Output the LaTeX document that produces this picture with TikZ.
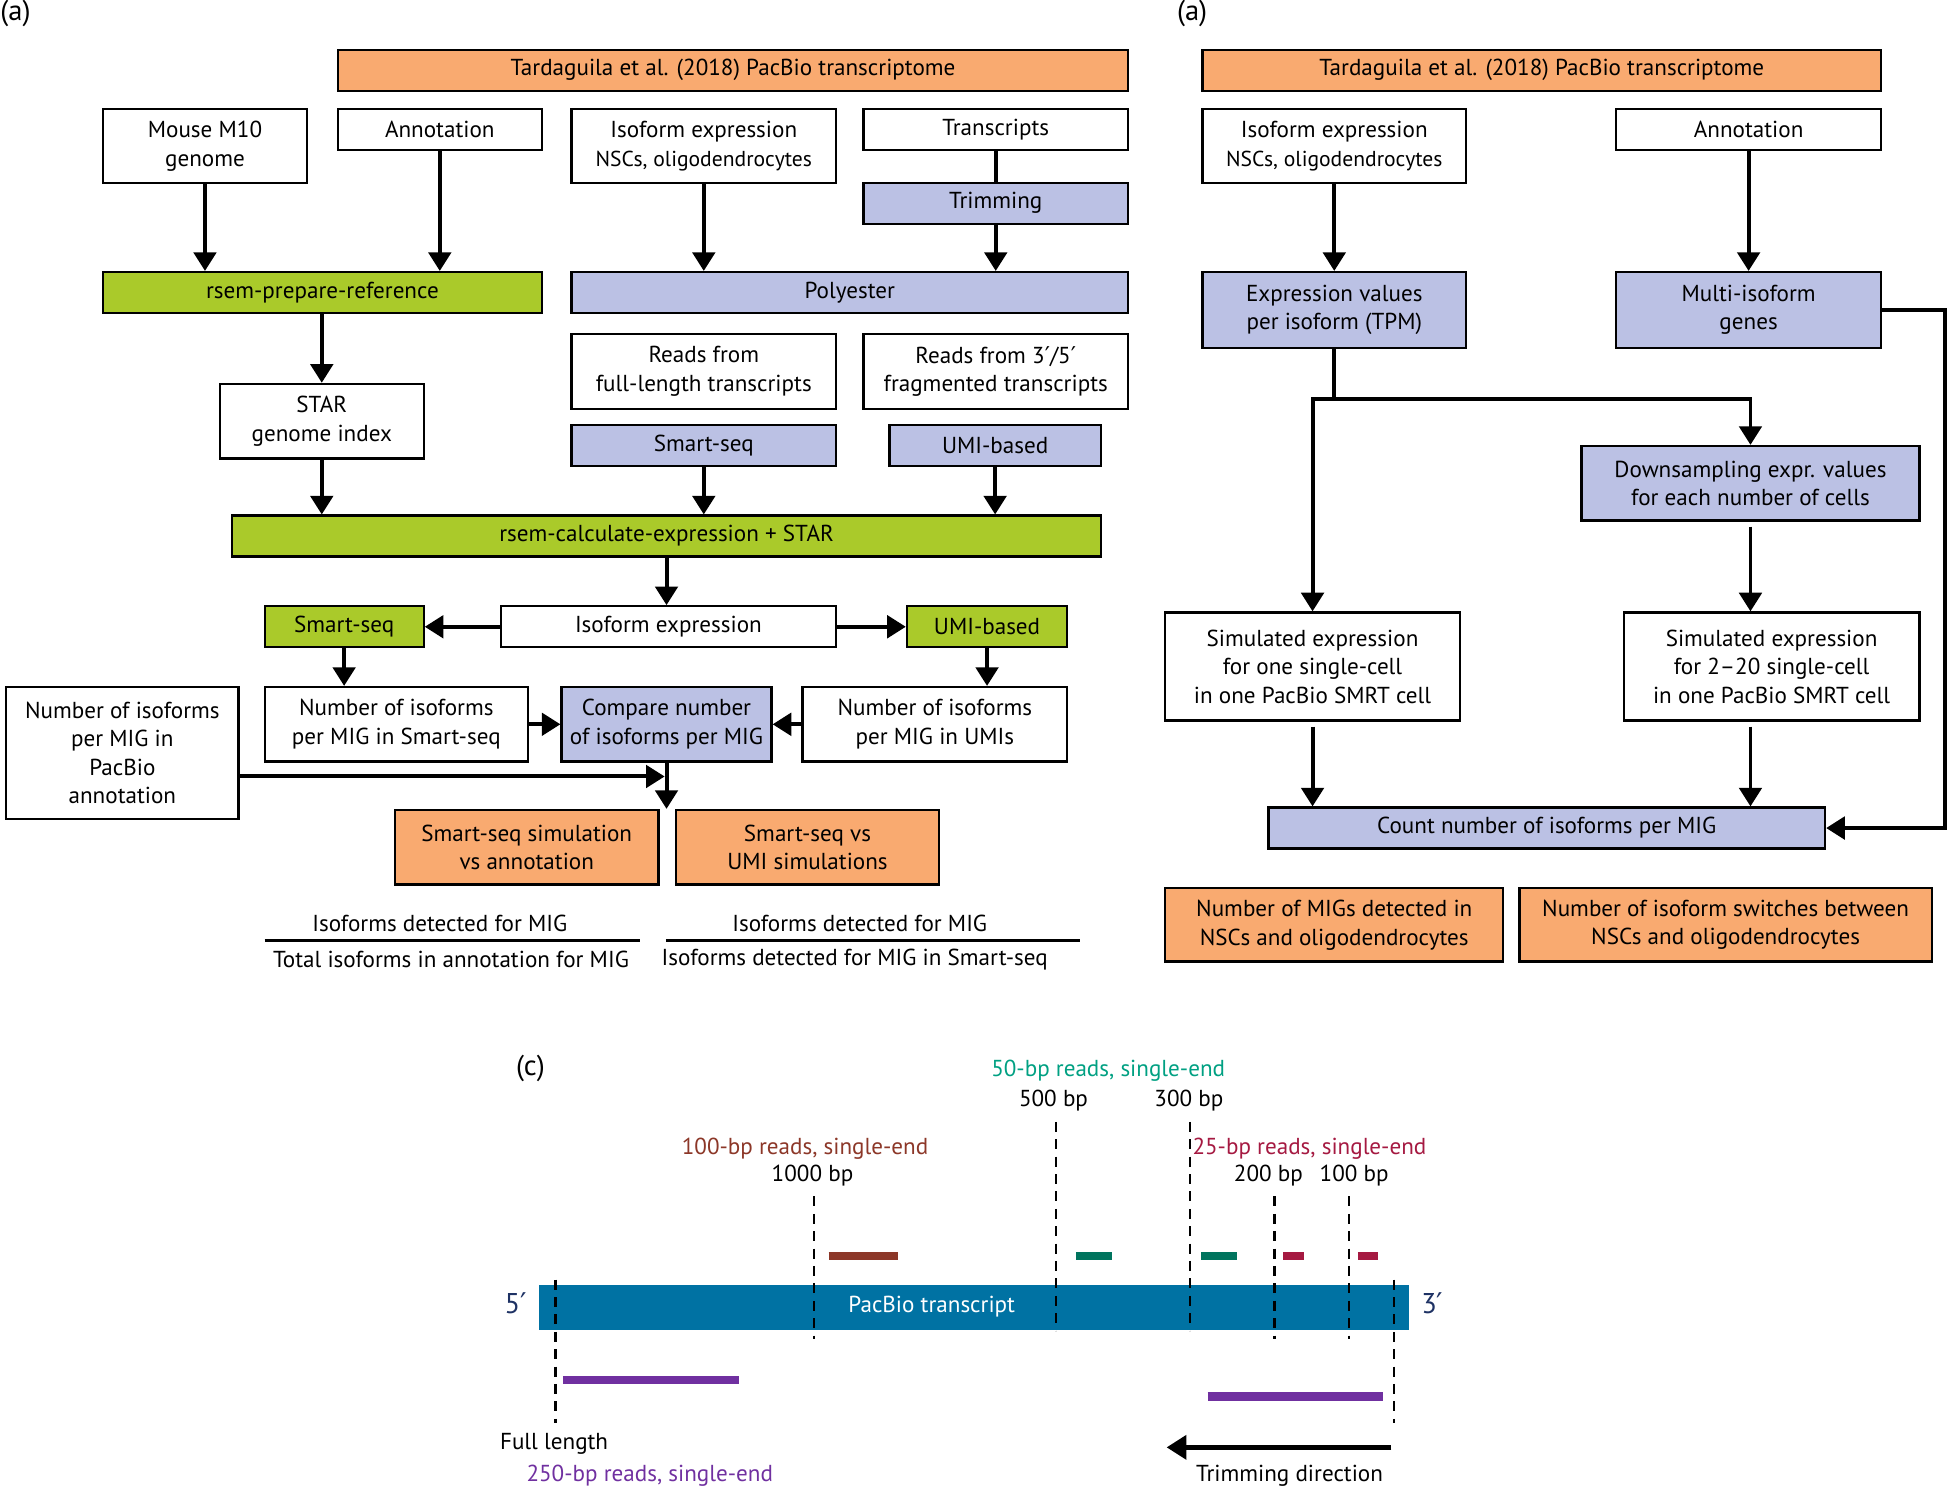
\documentclass[tikz,border=0pt]{standalone}
\usepackage{fontspec}
\setmainfont{PT Sans}
\newfontfamily\symf{DejaVu Sans}
\newcommand\prm{{\symf ′}}
\usetikzlibrary{arrows.meta,calc}
\definecolor{orangeF}{RGB}{249,170,112}
\definecolor{greenF}{RGB}{170,202,42}
\definecolor{blueF}{RGB}{187,193,228}
\definecolor{txbar}{RGB}{0,114,163}
\definecolor{tealT}{RGB}{0,160,130}
\definecolor{tealB}{RGB}{0,116,94}
\definecolor{brownR}{RGB}{140,55,40}
\definecolor{crimsonR}{RGB}{165,25,65}
\definecolor{purpleR}{RGB}{112,48,160}
\definecolor{navyT}{RGB}{30,50,100}
\begin{document}
\begin{tikzpicture}[x=0.5pt,y=-0.5pt,
  bx/.style={draw, line width=0.9pt, inner sep=1pt, align=center, font=\fontsize{9.3}{11.5}\selectfont},
  sz/.style 2 args={minimum width=#1*0.5pt, minimum height=#2*0.5pt},
  arr/.style={-{Triangle[length=7.5pt,width=9pt]}, line width=1.6pt},
  ln/.style={line width=1.6pt},
  txt/.style={inner sep=0pt, align=center, font=\fontsize{9.3}{11.5}\selectfont},
  lbl/.style={inner sep=0pt, font=\fontsize{11.5}{13}\selectfont},
  dsh/.style={line width=1pt, dash pattern=on 4pt off 3pt},
  rbar/.style={line width=3.3pt}]
\useasboundingbox (0,0) rectangle (1568,1199);

% ---------------- left panel ----------------
\node[lbl, anchor=north west] (la) at (0,0) {(a)};
\node[bx, sz={636}{33}, fill=orangeF] (top1) at (590,56.5) {Tardaguila et al. (2018) PacBio transcriptome};
\node[bx, sz={164}{59}] (mouse) at (165,117.5) {Mouse M10\\genome};
\node[bx, sz={164}{33}] (annL) at (354,104.5) {Annotation};
\node[bx, sz={213}{59}] (isoL) at (566.5,117.5) {Isoform expression\\{\fontsize{8.7}{11}\selectfont NSCs, oligodendrocytes}};
\node[bx, sz={213}{33}] (trans) at (801.5,104.5) {Transcripts};
\node[bx, sz={213}{33}, fill=blueF] (trim) at (801.5,163.5) {Trimming};
\node[bx, sz={353}{33}, fill=greenF] (rprep) at (259.5,235.5) {rsem-prepare-reference};
\node[bx, sz={448}{33}, fill=blueF] (poly) at (684,235.5) {Polyester};
\node[bx, sz={164}{60}] (star) at (259,339) {STAR\\genome index};
\node[bx, sz={213}{60}] (rfull) at (566.5,299) {Reads from\\full-length transcripts};
\node[bx, sz={213}{60}] (rfrag) at (801.5,299) {Reads from 3\prm/5\prm\\fragmented transcripts};
\node[bx, sz={213}{33}, fill=blueF] (smart1) at (566.5,358.5) {Smart-seq};
\node[bx, sz={170}{33}, fill=blueF] (umi1) at (801,358.5) {UMI-based};
\node[bx, sz={699}{33}, fill=greenF] (rcalc) at (536.5,431.5) {rsem-calculate-expression + STAR};
\node[bx, sz={128}{33}, fill=greenF] (smart2) at (277,504.5) {Smart-seq};
\node[bx, sz={270}{33}] (isoexp) at (538,504.5) {Isoform expression};
\node[bx, sz={129}{33}, fill=greenF] (umi2) at (794.5,504.5) {UMI-based};
\node[bx, sz={187}{106}] (npac) at (98.5,606) {Number of isoforms\\per MIG in\\PacBio\\annotation};
\node[bx, sz={212}{60}] (nsmart) at (319,583) {Number of isoforms\\per MIG in Smart-seq};
\node[bx, sz={169}{60}, fill=blueF] (cmp) at (536.5,583) {Compare number\\of isoforms per MIG};
\node[bx, sz={213}{60}] (numi) at (752.5,583) {Number of isoforms\\per MIG in UMIs};
\node[bx, sz={212}{60}, fill=orangeF] (o1) at (424,682) {Smart-seq simulation\\vs annotation};
\node[bx, sz={212}{60}, fill=orangeF] (o2) at (650,682) {Smart-seq vs\\UMI simulations};
\node[txt] (f1n) at (354,743) {Isoforms detected for MIG};
\node[txt] (f1d) at (363,772) {Total isoforms in annotation for MIG};
\node[txt] (f2n) at (692,743) {Isoforms detected for MIG};
\node[txt] (f2d) at (688,772) {Isoforms detected for MIG in Smart-seq};
\coordinate (f1a) at (213,757); \coordinate (f1b) at (515,757);
\coordinate (f2a) at (536,757); \coordinate (f2b) at (869,757);
\draw[line width=1.3pt] (f1a) -- (f1b);
\draw[line width=1.3pt] (f2a) -- (f2b);

\draw[arr] (mouse.south) -- (mouse.south |- rprep.north);
\draw[arr] (annL.south) -- (annL.south |- rprep.north);
\draw[arr] (isoL.south) -- (isoL.south |- poly.north);
\draw[ln] (trans.south) -- (trim.north);
\draw[arr] (trim.south) -- (trim.south |- poly.north);
\draw[arr] (star.north |- rprep.south) -- (star.north);
\draw[arr] (star.south) -- (star.south |- rcalc.north);
\draw[arr] (smart1.south) -- (smart1.south |- rcalc.north);
\draw[arr] (umi1.south) -- (umi1.south |- rcalc.north);
\draw[arr] (cmp.north |- rcalc.south) -- (cmp.north |- isoexp.north);
\draw[arr] (isoexp.west) -- (smart2.east);
\draw[arr] (isoexp.east) -- (umi2.west);
\draw[arr] (smart2.south) -- (smart2.south |- nsmart.north);
\draw[arr] (umi2.south) -- (umi2.south |- numi.north);
\draw[arr] (nsmart.east) -- (cmp.west);
\draw[arr] (numi.west) -- (cmp.east);
\coordinate (cmpend) at (cmp.south |- o1.north);
\draw[arr] (cmp.south) -- (cmpend);
\coordinate (pj) at (535,625);
\draw[arr] (npac.east |- pj) -- (pj);

% ---------------- right panel ----------------
\node[lbl, anchor=north west] (ra) at (947,0) {(a)};
\node[bx, sz={546}{33}, fill=orangeF] (top2) at (1241,56.5) {Tardaguila et al. (2018) PacBio transcriptome};
\node[bx, sz={212}{59}] (isoR) at (1074,117.5) {Isoform expression\\{\fontsize{8.7}{11}\selectfont NSCs, oligodendrocytes}};
\node[bx, sz={213}{33}] (annR) at (1407.5,104.5) {Annotation};
\node[bx, sz={212}{61}, fill=blueF] (expv) at (1074,249.5) {Expression values\\per isoform (TPM)};
\node[bx, sz={213}{61}, fill=blueF] (multi) at (1407.5,249.5) {Multi-isoform\\genes};
\node[bx, sz={272}{60}, fill=blueF] (down) at (1409,389) {Downsampling expr. values\\for each number of cells};
\node[bx, sz={237}{87}] (sim1) at (1056.5,536.5) {Simulated expression\\for one single-cell\\in one PacBio SMRT cell};
\node[bx, sz={238}{87}] (sim2) at (1426,536.5) {Simulated expression\\for 2–20 single-cell\\in one PacBio SMRT cell};
\node[bx, sz={448}{33}, fill=blueF] (count) at (1245,666.5) {Count number of isoforms per MIG};
\node[bx, sz={272}{59}, fill=orangeF] (o3) at (1074,744.5) {Number of MIGs detected in\\NSCs and oligodendrocytes};
\node[bx, sz={332}{59}, fill=orangeF] (o4) at (1389,744.5) {Number of isoform switches between\\NSCs and oligodendrocytes};

\draw[arr] (isoR.south) -- (isoR.south |- expv.north);
\draw[arr] (annR.south) -- (annR.south |- multi.north);
\coordinate (br) at (1074,321);
\draw[ln] (expv.south) -- (br);
\draw[arr] (br) -| (sim1.north);
\draw[arr] (br) -| (down.north);
\draw[arr, shorten <=2pt] (down.south) -- (down.south |- sim2.north);
\draw[arr, shorten <=2pt] (sim1.south) -- (sim1.south |- count.north);
\draw[arr, shorten <=2pt] (down.south |- sim2.south) -- (down.south |- count.north);
\draw[arr] (multi.east) -- ++(25.5pt,0) |- (count.east);

% ---------------- panel (c) ----------------
\node[lbl] (lc) at (427,860) {(c)};
\node[inner sep=0pt, minimum width=350pt, minimum height=18.25pt, fill=txbar] (tx) at (784,1052.5) {};
\node[txt, text=white] (txl) at (750,1052) {PacBio transcript};
\node[lbl, text=navyT] (p5) at (415,1049) {5\prm};
\node[lbl, text=navyT] (p3) at (1153,1049) {3\prm};

\node[txt, text=tealT] (r50) at (892,862) {50-bp reads, single-end};
\node[txt] (b500) at (848,886) {500 bp};
\node[txt] (b300) at (957,886) {300 bp};
\node[txt, text=brownR] (r100) at (648,925) {100-bp reads, single-end};
\node[txt] (b1000) at (654,946) {1000 bp};
\node[txt, text=crimsonR] (r25) at (1054,925) {25-bp reads, single-end};
\node[txt] (b200) at (1021,946) {200 bp};
\node[txt] (b100) at (1090,946) {100 bp};
\node[txt] (fl) at (446,1162) {Full length};
\node[txt, text=purpleR] (r250) at (523,1188) {250-bp reads, single-end};
\node[txt] (tdir) at (1038,1188) {Trimming direction};

% dashed position markers
\coordinate (d1a) at (447,1030); \coordinate (d1b) at (447,1145);
\coordinate (d2a) at (655,963); \coordinate (d2b) at (655,1078);
\coordinate (d3a) at (850,903); \coordinate (d3b) at (850,1071);
\coordinate (d4a) at (958,903); \coordinate (d4b) at (958,1071);
\coordinate (d5a) at (1026,963); \coordinate (d5b) at (1026,1078);
\coordinate (d6a) at (1086,963); \coordinate (d6b) at (1086,1078);
\coordinate (d7a) at (1122,1030); \coordinate (d7b) at (1122,1145);
\foreach \i in {1,...,7} { \draw[dsh] (d\i a) -- (d\i b); }

% read bars
\draw[rbar, brownR] (667,1011) -- (723,1011);
\draw[rbar, tealB] (866,1011) -- (895,1011);
\draw[rbar, tealB] (967,1011) -- (996,1011);
\draw[rbar, crimsonR] (1033,1011) -- (1050,1011);
\draw[rbar, crimsonR] (1093,1011) -- (1109,1011);
\draw[rbar, purpleR] (453,1111) -- (595,1111);
\draw[rbar, purpleR] (972,1124) -- (1113,1124);

% trimming direction arrow
\coordinate (ta) at (1120,1165); \coordinate (tb) at (939,1165);
\draw[-{Triangle[length=8pt,width=9.5pt]}, line width=2pt] (ta) -- (tb);
\end{tikzpicture}
\end{document}
